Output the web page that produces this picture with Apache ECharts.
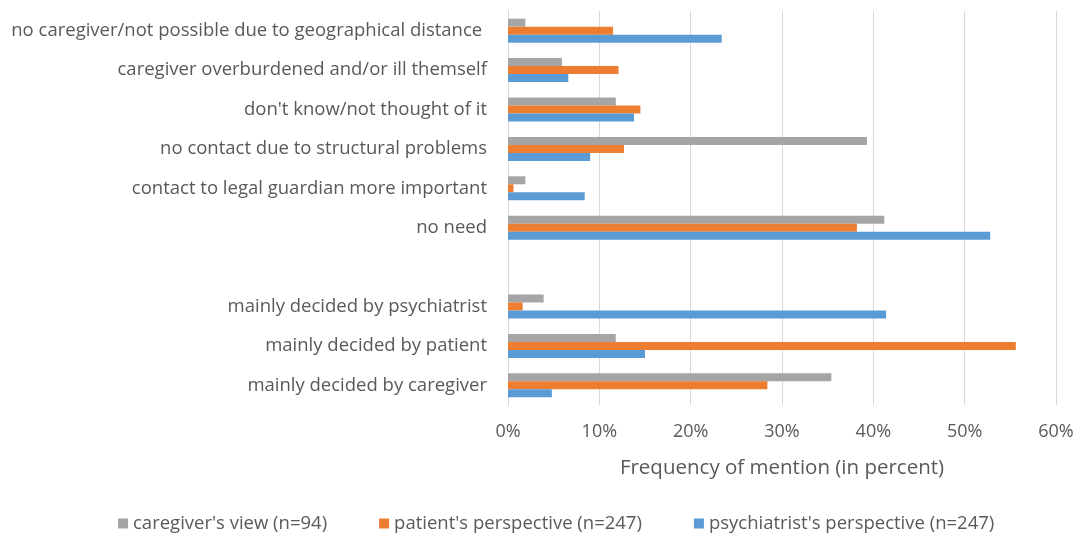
<!DOCTYPE html>
<html><head><meta charset="utf-8">
<script src="https://cdn.jsdelivr.net/npm/echarts@6/dist/echarts.min.js"></script>
<style>html,body{margin:0;padding:0;background:#fff}#c{width:1077px;height:539px}</style>
</head><body><div id="c"></div>
<script>
const categories = [
  "no caregiver/not possible due to geographical distance ",
  "caregiver overburdened and/or ill themself",
  "don't know/not thought of it",
  "no contact due to structural problems",
  "contact to legal guardian more important",
  "no need",
  "",
  "mainly decided by psychiatrist",
  "mainly decided by patient",
  "mainly decided by caregiver"
];
const seriesNames = ["caregiver's view (n=94)", "patient's perspective (n=247)", "psychiatrist's perspective (n=247)"];
const caregiverView = [1.9, 5.9, 11.8, 39.3, 1.9, 41.2, null, 3.9, 11.8, 35.4];
const patientPerspective = [11.5, 12.1, 14.5, 12.7, 0.6, 38.2, null, 1.6, 55.6, 28.4];
const psychiatristPerspective = [23.4, 6.6, 13.8, 9.0, 8.4, 52.8, null, 41.4, 15.0, 4.8];
const xTicks = [0, 10, 20, 30, 40, 50, 60];

const colors = ['#a5a5a5', '#ed7d31', '#5b9bd5'];
const font = 'Open Sans';
const chart = echarts.init(document.getElementById('c'));
const mk = (name, data, i) => ({
  name, type: 'bar', data, barWidth: 8, barGap: '0%', barCategoryGap: '40%',
  itemStyle: { color: colors[i] }, animation: false
});
chart.setOption({
  animation: false,
  textStyle: { fontFamily: font },
  grid: { left: 508, right: 21, top: 11, bottom: 134, containLabel: false },
  xAxis: {
    type: 'value', min: xTicks[0], max: xTicks[xTicks.length - 1], interval: 10,
    axisLabel: { formatter: v => v + '%', color: '#595959', fontSize: 18, margin: 18, fontFamily: font },
    splitLine: { show: true, lineStyle: { color: '#d9d9d9', width: 1 } },
    axisLine: { show: false }, axisTick: { show: false },
    name: 'Frequency of mention (in percent)', nameLocation: 'middle', nameGap: 53,
    nameTextStyle: { color: '#595959', fontSize: 20.5, fontFamily: font }
  },
  yAxis: {
    type: 'category', data: categories, inverse: true,
    axisLine: { show: true, lineStyle: { color: '#d9d9d9' } },
    axisTick: { show: false },
    axisLabel: { color: '#595959', fontSize: 18.5, margin: 21, fontFamily: font }
  },
  legend: {
    bottom: 1, left: 113, itemWidth: 10, itemHeight: 10, itemGap: 52,
    icon: 'rect',
    textStyle: { color: '#595959', fontSize: 18.5, fontFamily: font },
    data: seriesNames
  },
  series: [
    mk(seriesNames[0], caregiverView, 0),
    mk(seriesNames[1], patientPerspective, 1),
    mk(seriesNames[2], psychiatristPerspective, 2)
  ]
});
</script></body></html>
